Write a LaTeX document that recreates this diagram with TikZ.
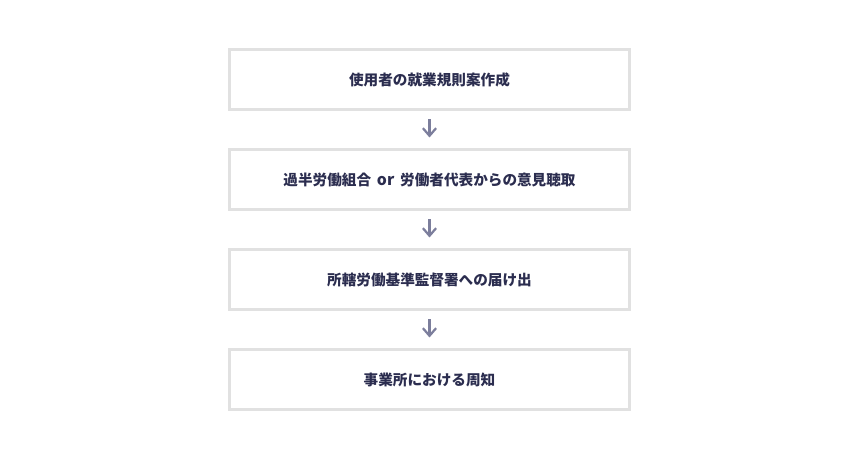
\documentclass[tikz,border=0pt]{standalone}
\usepackage{fontspec}
\newfontfamily\jpfont{Noto Sans CJK JP}
\usetikzlibrary{positioning,arrows.meta}
\definecolor{boxline}{HTML}{E1E1E1}
\definecolor{flowtext}{HTML}{2B2D4F}
\definecolor{flowarrow}{HTML}{7C7E9C}
\tikzset{
  stepbox/.style={draw=boxline,line width=2.1pt,minimum width=10cm,minimum height=1.5cm,
    outer sep=0pt,inner sep=0pt,text=flowtext,font=\jpfont\bfseries\fontsize{10.4}{12}\selectfont},
  flow/.style={draw=flowarrow,line width=1.6pt,-{Straight Barb[length=1.9mm,width=3.3mm]},
    shorten <=0.24cm,shorten >=0.3cm}
}
\begin{document}
\begin{tikzpicture}[node distance=1cm]
            \useasboundingbox (0,0) rectangle (21.5,11.5);
            \node[stepbox] (draft) at (10.7375,9.5125) {使用者の就業規則案作成};
            \node[stepbox,below=of draft] (hearing) {過半労働組合\hspace{0.4em}{\fontsize{11.2}{12}\selectfont or}\hspace{0.4em}労働者代表からの意見聴取};
            \node[stepbox,below=of hearing] (notify) {所轄労働基準監督署への届け出};
            \node[stepbox,below=of notify] (publish) {事業所における周知};
            \draw[flow] (draft) -- (hearing);
            \draw[flow] (hearing) -- (notify);
            \draw[flow] (notify) -- (publish);
        \end{tikzpicture}
\end{document}
